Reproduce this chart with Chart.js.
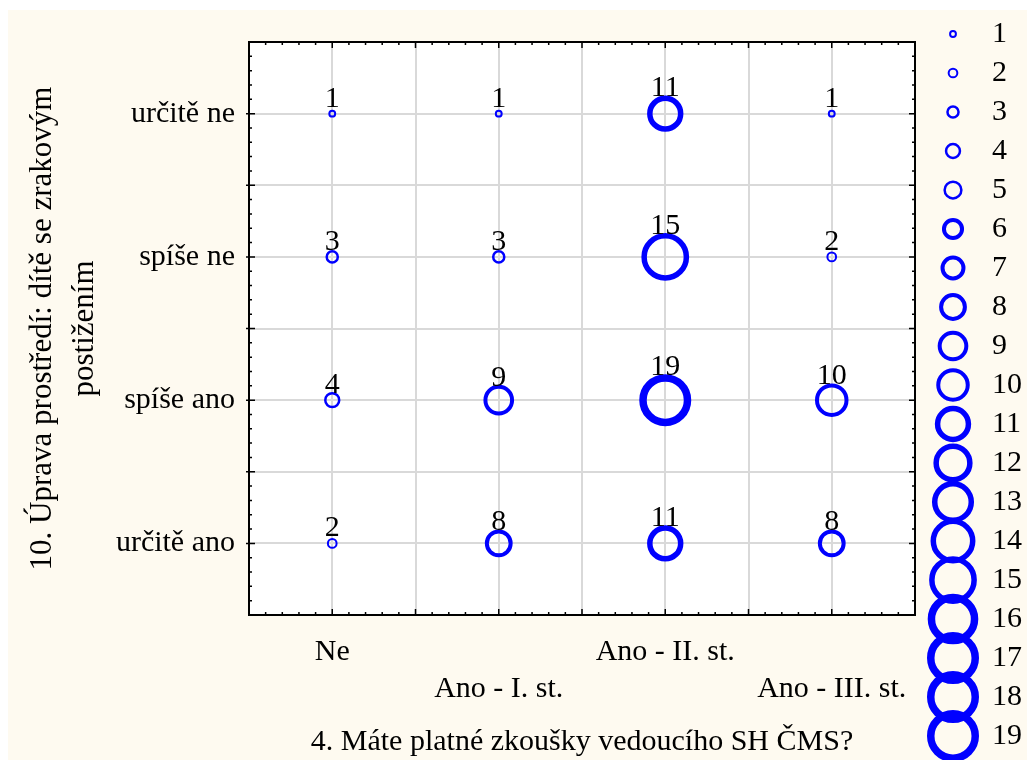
<!DOCTYPE html>
<html>
<head>
<meta charset="utf-8">
<script src="https://cdn.jsdelivr.net/npm/chart.js@4/dist/chart.umd.min.js"></script>
<style>
  html, body { margin: 0; padding: 0; background: #fff; }
  #wrap { width: 1032px; height: 760px; position: relative; }
</style>
</head>
<body>
<div id="wrap"><canvas id="chart"></canvas></div>
<script>
// categories
const xLabels = ["Ne", "Ano - I. st.", "Ano - II. st.", "Ano - III. st."];
const yLabels = ["určitě ne", "spíše ne", "spíše ano", "určitě ano"];

// counts per row (one value per x category)
const urciteNe = [1, 1, 11, 1];
const spiseNe = [3, 3, 15, 2];
const spiseAno = [4, 9, 19, 10];
const urciteAno = [2, 8, 11, 8];

// size legend
const legendValues = [1, 2, 3, 4, 5, 6, 7, 8, 9, 10, 11, 12, 13, 14, 15, 16, 17, 18, 19];

const xTitle = "4. Máte platné zkoušky vedoucího SH ČMS?";
const yTitle = ["10. Úprava prostředí: dítě se zrakovým", "postižením"];

const BLUE = "#0000ff";
const FONT = "'Liberation Serif', 'Times New Roman', serif";

// bubble look: outer size and ring width grow with the count
const outerDiameter = n => Math.min(5 + 2.85 * n, 52);
const ringWidth = n => n <= 2 ? 2 : n <= 5 ? 2.5 : n <= 10 ? 4 : n <= 15 ? 5.5 : 7.5;
const ringRadius = n => outerDiameter(n) / 2 - ringWidth(n) / 2;

const rows = [urciteNe, spiseNe, spiseAno, urciteAno];
const points = [];
rows.forEach((row, yi) => {
    row.forEach((n, xi) => {
        points.push({ x: xi, y: yi, r: ringRadius(n), count: n });
    });
});

// small canvases used as legend point styles
function ringImage(n) {
    const size = 2 * Math.ceil((outerDiameter(n) + 4) / 2);
    const c = document.createElement("canvas");
    c.width = size;
    c.height = size;
    const g = c.getContext("2d");
    g.strokeStyle = BLUE;
    g.lineWidth = ringWidth(n);
    g.beginPath();
    g.arc(size / 2, size / 2, ringRadius(n), 0, Math.PI * 2);
    g.stroke();
    return c;
}

const catLabel = (list, stagger) => value => {
    const i = Math.round(value);
    if (Math.abs(value - i) > 1e-6 || i < 0 || i >= list.length) return "";
    return stagger && i % 2 ? ["", list[i]] : list[i];
};

const backgroundPlugin = {
    id: "background",
    beforeDraw(chart) {
        const { ctx, chartArea: a } = chart;
        ctx.save();
        ctx.fillStyle = "#fefaf0";
        ctx.fillRect(8, 10, 1019, 750);
        ctx.fillStyle = "#ffffff";
        ctx.fillRect(a.left, a.top, a.right - a.left, a.bottom - a.top);
        ctx.restore();
    }
};

const countLabelPlugin = {
    id: "countLabels",
    afterDatasetsDraw(chart) {
        const ctx = chart.ctx;
        const meta = chart.getDatasetMeta(0);
        const data = chart.data.datasets[0].data;
        ctx.save();
        ctx.font = "30px " + FONT;
        ctx.fillStyle = "#000";
        ctx.textAlign = "center";
        ctx.textBaseline = "alphabetic";
        meta.data.forEach((el, i) => {
            const n = data[i].count;
            const lift = Math.max(outerDiameter(n) / 2, 8);
            ctx.fillText(String(n), el.x, el.y - lift + 1);
        });
        ctx.restore();
    }
};

const framePlugin = {
    id: "frame",
    afterDraw(chart) {
        const { ctx, chartArea: a, scales } = chart;
        ctx.save();
        ctx.strokeStyle = "#000";
        ctx.lineWidth = 1.5;
        ctx.beginPath();
        for (let i = -4; i < 35; i++) {
            const major = i % 5 === 0;
            const len = major ? 6 : 3;
            const px = scales.x.getPixelForValue(i / 10);
            ctx.moveTo(px, a.bottom); ctx.lineTo(px, a.bottom - len);
            ctx.moveTo(px, a.top); ctx.lineTo(px, a.top + len);
            const py = scales.y.getPixelForValue(i / 10);
            ctx.moveTo(a.left - (major ? 3 : 0), py); ctx.lineTo(a.left + len, py);
            ctx.moveTo(a.right, py); ctx.lineTo(a.right - len, py);
        }
        ctx.stroke();
        ctx.lineWidth = 2;
        ctx.strokeRect(a.left, a.top, a.right - a.left, a.bottom - a.top);
        ctx.restore();
    }
};

Chart.defaults.font.family = FONT;
Chart.defaults.font.size = 30;
Chart.defaults.color = "#000";

const chart = new Chart(document.getElementById("chart").getContext("2d"), {
    type: "bubble",
    data: {
        datasets: [{
            data: points,
            borderColor: BLUE,
            backgroundColor: "rgba(0,0,0,0)",
            borderWidth: c => ringWidth(c.raw.count),
            hoverBorderWidth: c => ringWidth(c.raw.count)
        }]
    },
    options: {
        responsive: true,
        maintainAspectRatio: false,
        animation: false,
        events: [],
        layout: { padding: { left: 0, right: 0, top: 0, bottom: 0 } },
        scales: {
            x: {
                type: "linear",
                position: "bottom",
                min: -0.5,
                max: 3.5,
                afterFit: s => { s.height = 145; },
                grid: { color: "#d9d9d9", lineWidth: 2, drawTicks: false },
                border: { display: false },
                ticks: {
                    stepSize: 0.5,
                    autoSkip: false,
                    maxRotation: 0,
                    minRotation: 0,
                    padding: 18,
                    font: { size: 30, lineHeight: 1.25 },
                    callback: catLabel(xLabels, true)
                },
                title: {
                    display: true,
                    text: xTitle,
                    padding: { top: 0, bottom: 0 },
                    font: { size: 30, lineHeight: 1.2 }
                }
            },
            y: {
                type: "linear",
                position: "left",
                reverse: true,
                min: -0.5,
                max: 3.5,
                afterFit: s => { s.width = 249; },
                grid: { color: "#d9d9d9", lineWidth: 2, drawTicks: false },
                border: { display: false },
                ticks: {
                    stepSize: 0.5,
                    autoSkip: false,
                    padding: 14,
                    font: { size: 30, lineHeight: 1.2 },
                    callback: catLabel(yLabels, false)
                },
                title: {
                    display: true,
                    text: yTitle,
                    padding: { top: 22, bottom: 0 },
                    font: { size: 31, lineHeight: 1.35 }
                }
            },
            yr: {
                type: "linear",
                position: "right",
                grid: { display: false, drawTicks: false },
                border: { display: false },
                ticks: { display: false },
                afterFit: s => { s.width = 5; }
            }
        },
        plugins: {
            tooltip: { enabled: false },
            title: {
                display: true,
                text: "",
                fullSize: false,
                padding: { top: 32, bottom: 0 },
                font: { size: 10, lineHeight: 1 }
            },
            legend: {
                position: "right",
                align: "end",
                labels: {
                    usePointStyle: true,
                    pointStyleWidth: 48,
                    padding: 9,
                    font: { size: 30 },
                    generateLabels: () => legendValues.map(n => ({
                        text: String(n),
                        pointStyle: ringImage(n),
                        fillStyle: "rgba(0,0,0,0)",
                        strokeStyle: BLUE,
                        lineWidth: 0,
                        hidden: false,
                        fontColor: "#000"
                    }))
                }
            }
        }
    },
    plugins: [backgroundPlugin, countLabelPlugin, framePlugin]
});
</script>
</body>
</html>
